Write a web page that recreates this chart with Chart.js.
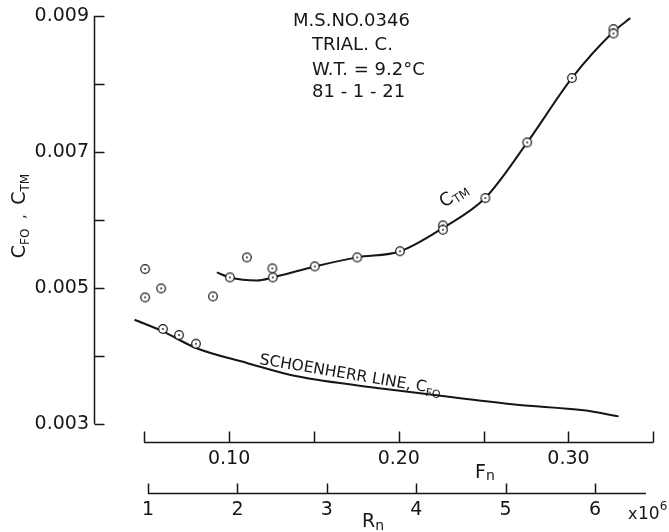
<!DOCTYPE html>
<html>
<head>
<meta charset="utf-8">
<script src="https://cdn.jsdelivr.net/npm/chart.js@4.4.1/dist/chart.umd.min.js"></script>
<style>
  html, body { margin: 0; padding: 0; background: #fff; }
</style>
</head>
<body>
<canvas id="chart" width="669" height="532"></canvas>
<script>
// measured points: Froude number and resistance coefficient
var measuredFn = [0.0505, 0.0505, 0.060, 0.061, 0.0705, 0.0805, 0.0905, 0.1005, 0.1105, 0.1255, 0.1258,
                  0.1505, 0.1755, 0.2007, 0.226, 0.226, 0.251, 0.2757, 0.302, 0.3265, 0.3265];
var measuredC = [0.005275, 0.004857, 0.00499, 0.004393, 0.004304, 0.004176, 0.004872, 0.005151, 0.005446, 0.005284, 0.005151,
                 0.005313, 0.005446, 0.005537, 0.005916, 0.005853, 0.006319, 0.007137, 0.008084, 0.008804, 0.00874];

// faired C_TM curve
var ctmFn = [0.0928, 0.1005, 0.1164, 0.1258, 0.1506, 0.1755, 0.2009, 0.2262, 0.2509, 0.2757, 0.302, 0.3265, 0.3364];
var ctmC = [0.005225, 0.005151, 0.005107, 0.005151, 0.005313, 0.005446, 0.005537, 0.005882, 0.006319, 0.007137, 0.008084, 0.008765, 0.008966];

// Schoenherr friction line C_FO
var cfoFn = [0.0443, 0.061, 0.0805, 0.1105, 0.14, 0.191, 0.2303, 0.2696, 0.3089, 0.3295];
var cfoC = [0.004529, 0.004357, 0.004113, 0.003893, 0.003696, 0.003515, 0.003393, 0.003279, 0.003196, 0.003107];

var yTicks = [0.003, 0.004, 0.005, 0.006, 0.007, 0.008, 0.009];
var yLabels = ['0.003', '', '0.005', '', '0.007', '', '0.009'];
var fnTicks = [0.05, 0.10, 0.15, 0.20, 0.25, 0.30, 0.35];
var fnLabels = ['', '0.10', '', '0.20', '', '0.30', ''];
var rnTicks = [1, 2, 3, 4, 5, 6];
var rnLabels = ['1', '2', '3', '4', '5', '6'];
var rnAxisEnd = 6.57;

var ink = '#161616';
var face = '"DejaVu Sans", sans-serif';

function pairs(xs, ys) {
    return xs.map(function (x, i) { return { x: x, y: ys[i] }; });
}

// open circle with a centre dot
function ringDot() {
    var c = document.createElement('canvas');
    c.width = 12; c.height = 12;
    var g = c.getContext('2d');
    g.fillStyle = '#fff';
    g.strokeStyle = ink;
    g.lineWidth = 1.2;
    g.beginPath(); g.arc(6, 6, 4.3, 0, Math.PI * 2); g.fill(); g.stroke();
    g.fillStyle = ink;
    g.beginPath(); g.arc(6, 6, 0.9, 0, Math.PI * 2); g.fill();
    return c;
}

// text runs: [text, size, baseline shift]
function runs(c, parts, x, y) {
    parts.forEach(function (p) {
        c.font = p[1] + 'px ' + face;
        c.fillText(p[0], x, y + p[2]);
        x += c.measureText(p[0]).width;
    });
    return x;
}
function runsWidth(c, parts) {
    var w = 0;
    parts.forEach(function (p) { c.font = p[1] + 'px ' + face; w += c.measureText(p[0]).width; });
    return w;
}

function fixedTicks(values) {
    return function (axis) { axis.ticks = values.map(function (v) { return { value: v }; }); };
}
function fitTo(w, h) {
    return function (axis) {
        if (w) axis.width = w;
        if (h) axis.height = h;
        axis.paddingTop = axis.paddingBottom = axis.paddingLeft = axis.paddingRight = 0;
    };
}

var decor = {
    id: 'decor',
    afterDraw: function (chart) {
        var c = chart.ctx, sx = chart.scales.x, sr = chart.scales.rn, sy = chart.scales.y;
        c.save();
        c.strokeStyle = ink;
        c.fillStyle = ink;
        c.lineWidth = 1.5;

        // left axis, ticks pointing inward
        var ax = sy.right - 0.5;
        c.beginPath();
        c.moveTo(ax, sy.getPixelForValue(yTicks[yTicks.length - 1]));
        c.lineTo(ax, sy.getPixelForValue(yTicks[0]));
        yTicks.forEach(function (v) {
            var p = Math.round(sy.getPixelForValue(v)) + 0.5;
            c.moveTo(ax, p); c.lineTo(ax + 10, p);
        });
        c.stroke();

        // Fn axis
        var fy = sx.top + 0.5;
        c.beginPath();
        c.moveTo(sx.getPixelForValue(fnTicks[0]), fy);
        c.lineTo(sx.getPixelForValue(fnTicks[fnTicks.length - 1]), fy);
        fnTicks.forEach(function (v) {
            var p = Math.round(sx.getPixelForValue(v)) + 0.5;
            c.moveTo(p, fy); c.lineTo(p, fy - 11);
        });
        c.stroke();

        // Rn axis
        var ry = sr.top + 0.5;
        c.beginPath();
        c.moveTo(sr.getPixelForValue(rnTicks[0]), ry);
        c.lineTo(sr.getPixelForValue(rnAxisEnd), ry);
        rnTicks.forEach(function (v) {
            var p = Math.round(sr.getPixelForValue(v)) + 0.5;
            c.moveTo(p, ry); c.lineTo(p, ry - 10);
        });
        c.stroke();

        c.textAlign = 'left';
        c.textBaseline = 'alphabetic';

        // axis titles
        runs(c, [['F', 19, 0], ['n', 14, 2]], 475, 478);
        runs(c, [['R', 19, 0], ['n', 14, 3]], 362, 527);
        runs(c, [['x', 16, 0]], 628, 519);
        runs(c, [['10', 17, 0], ['6', 12, -9]], 638, 519);

        var yTitle = [['C', 19, 0], ['FO', 12, 4], ['  ,  ', 15, 0], ['C', 19, 0], ['TM', 12, 4]];
        c.save();
        c.translate(25, 216);
        c.rotate(-Math.PI / 2);
        runs(c, yTitle, -runsWidth(c, yTitle) / 2, 0);
        c.restore();

        // test particulars
        c.font = '18px ' + face;
        c.fillText('M.S.NO.0346', 293, 26);
        c.fillText('TRIAL. C.', 312, 50);
        c.fillText('W.T. = 9.2°C', 312, 75);
        c.fillText('81 - 1 - 21', 312, 96.5);

        // curve labels
        c.save();
        c.translate(444, 208);
        c.rotate(-33 * Math.PI / 180);
        runs(c, [['C', 18, 0], ['TM', 12, 3]], 0, 0);
        c.restore();

        c.save();
        c.translate(259, 364);
        c.rotate(9.5 * Math.PI / 180);
        runs(c, [['SCHOENHERR LINE, C', 15.5, 0], ['FO', 11, 4]], 0, 0);
        c.restore();

        c.restore();
    }
};

var tickFont = { family: face, size: 19 };

new Chart(document.getElementById('chart').getContext('2d'), {
    type: 'scatter',
    data: {
        datasets: [{
            label: 'measured',
            data: pairs(measuredFn, measuredC),
            pointStyle: ringDot(),
            pointRadius: 6,
            order: 0
        }, {
            label: 'CTM',
            data: pairs(ctmFn, ctmC),
            showLine: true,
            pointRadius: 0,
            borderColor: ink,
            borderWidth: 2,
            cubicInterpolationMode: 'monotone',
            order: 1
        }, {
            label: 'CFO',
            data: pairs(cfoFn, cfoC),
            showLine: true,
            pointRadius: 0,
            borderColor: ink,
            borderWidth: 2,
            cubicInterpolationMode: 'monotone',
            order: 1
        }]
    },
    options: {
        responsive: false,
        animation: false,
        events: [],
        layout: { padding: { top: 9, right: 8.7, bottom: 0, left: 0 }, autoPadding: false },
        plugins: { legend: { display: false }, tooltip: { enabled: false } },
        scales: {
            x: {
                type: 'linear', position: 'bottom', weight: 1, bounds: 'data',
                min: 0.021, max: 0.3541,
                grid: { display: false, drawTicks: false },
                border: { display: false },
                ticks: {
                    autoSkip: false, maxRotation: 0, padding: 6, color: ink, font: tickFont,
                    callback: function (v, i) { return fnLabels[i]; }
                },
                afterBuildTicks: fixedTicks(fnTicks),
                afterFit: fitTo(0, 51)
            },
            rn: {
                type: 'linear', position: 'bottom', weight: 2, bounds: 'data',
                min: 0.407, max: 6.73,
                grid: { display: false, drawTicks: false },
                border: { display: false },
                ticks: {
                    autoSkip: false, maxRotation: 0, padding: 6, color: ink, font: tickFont,
                    callback: function (v, i) { return rnLabels[i]; }
                },
                afterBuildTicks: fixedTicks(rnTicks),
                afterFit: fitTo(0, 39)
            },
            y: {
                type: 'linear', position: 'left', bounds: 'data',
                min: 0.00273, max: 0.0091,
                grid: { display: false, drawTicks: false },
                border: { display: false },
                ticks: {
                    autoSkip: false, padding: 6, color: ink, font: tickFont,
                    callback: function (v, i) { return yLabels[i]; }
                },
                afterBuildTicks: fixedTicks(yTicks),
                afterFit: fitTo(95, 0)
            }
        }
    },
    plugins: [decor]
});
</script>
</body>
</html>
